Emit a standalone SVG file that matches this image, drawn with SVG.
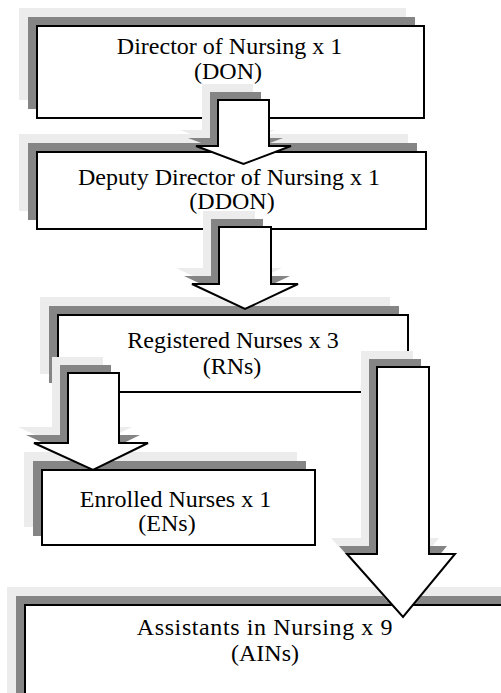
<svg xmlns="http://www.w3.org/2000/svg" xmlns:xlink="http://www.w3.org/1999/xlink" width="501" height="693" viewBox="0 0 501 693">
<style>
.halo{fill:#ececec}
.shade{fill:#858585}
.box{fill:#fff;stroke:#000;stroke-width:2}
.arrow{fill:#fff;stroke:#000;stroke-width:2;stroke-linejoin:miter}
text{font-family:"Liberation Serif","Times New Roman",serif;font-size:24px;fill:#000;text-anchor:middle}
</style>
<defs>
<path id="a1" d="M218 100 H269 V146 H291 L243.5 164 L196 146 H218 Z"/>
<path id="a2" d="M219 227 H271 V284 H298 L245 309 L192 284 H219 Z"/>
<path id="a3" d="M68 373 H119 V443 H148 L93 470 L34 443 H68 Z"/>
<path id="a4" d="M377 367 H429 V554 H455 L403 617 L347 554 H377 Z"/>
</defs>
<rect width="501" height="693" fill="#fff"/>

<g id="node-don">
<rect class="halo" x="19" y="8" width="387" height="92"/>
<rect class="shade" x="28" y="17" width="387" height="92"/>
<rect class="box" x="37" y="26" width="387" height="92"/>
<text x="229.5" y="54">Director of Nursing x 1</text>
<text x="228" y="79">(DON)</text>
</g>

<g id="node-ddon">
<rect class="halo" x="19" y="134" width="389" height="77"/>
<rect class="shade" x="28" y="143" width="389" height="77"/>
<rect class="box" x="37" y="152" width="389" height="77"/>
<text x="229" y="185">Deputy Director of Nursing x 1</text>
<text x="232" y="209">(DDON)</text>
</g>

<g id="node-rn">
<rect class="halo" x="40" y="297" width="350" height="77"/>
<rect class="shade" x="49" y="306" width="350" height="77"/>
<rect class="box" x="58" y="315" width="350" height="77"/>
<text x="233" y="348">Registered Nurses x 3</text>
<text x="232" y="374">(RNs)</text>
</g>

<g id="node-en">
<rect class="halo" x="24" y="452" width="273" height="75"/>
<rect class="shade" x="33" y="461" width="273" height="75"/>
<rect class="box" x="42" y="470" width="273" height="75"/>
<text x="175.5" y="507">Enrolled Nurses x 1</text>
<text x="167" y="531">(ENs)</text>
</g>

<g id="node-ain">
<rect class="halo" x="7" y="587" width="520" height="120"/>
<rect class="shade" x="16" y="596" width="520" height="120"/>
<rect class="box" x="25" y="605" width="520" height="120"/>
<text x="265" y="635" letter-spacing="0.6">Assistants in Nursing x 9</text>
<text x="265" y="661">(AINs)</text>
</g>

<g id="connectors">
<g id="arrow-don-ddon">
<use xlink:href="#a1" class="halo" transform="translate(-16,-16)"/>
<use xlink:href="#a1" class="shade" transform="translate(-8,-8)"/>
<use xlink:href="#a1" class="arrow"/>
</g>
<g id="arrow-ddon-rn">
<use xlink:href="#a2" class="halo" transform="translate(-16,-16)"/>
<use xlink:href="#a2" class="shade" transform="translate(-8,-8)"/>
<use xlink:href="#a2" class="arrow"/>
</g>
<g id="arrow-rn-en">
<use xlink:href="#a3" class="halo" transform="translate(-16,-16)"/>
<use xlink:href="#a3" class="shade" transform="translate(-8,-8)"/>
<use xlink:href="#a3" class="arrow"/>
</g>
<g id="arrow-rn-ain">
<use xlink:href="#a4" class="halo" transform="translate(-16,-16)"/>
<use xlink:href="#a4" class="shade" transform="translate(-8,-8)"/>
<use xlink:href="#a4" class="arrow"/>
</g>
</g>
</svg>
